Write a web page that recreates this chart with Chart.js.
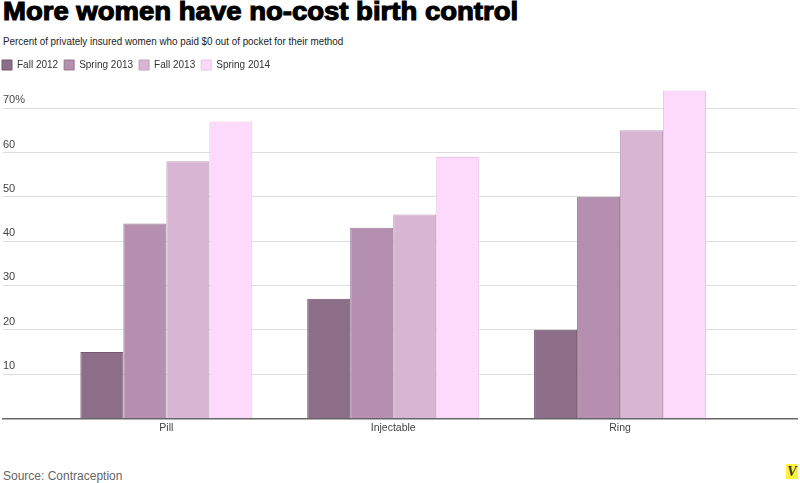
<!DOCTYPE html>
<html>
<head>
<meta charset="utf-8">
<script src="https://cdn.jsdelivr.net/npm/chart.js@4"></script>
<style>
  body { margin: 0; width: 800px; height: 483px; background: #fff; position: relative; overflow: hidden; }
  #title { position: absolute; left: 3px; top: -3px; font: bold 25px "Liberation Sans", Arial, sans-serif;
           color: #000; -webkit-text-stroke: 1.1px #000; transform-origin: left top; white-space: nowrap; }
  #sub, #source { position: absolute; left: 3px; white-space: nowrap; transform-origin: left top;
                  font-family: "Liberation Sans", Arial, sans-serif; }
  #sub { top: 35px; font-size: 11px; color: #222; }
  #source { top: 469px; font-size: 12px; color: #666; }
  #wrap { position: absolute; left: 0; top: 47px; width: 800px; height: 400px; }
  #logo { position: absolute; left: 786px; top: 464px; width: 12px; height: 15px; background: #fff23a;
          font: bold italic 14px "Liberation Serif", serif; color: #333; text-align: center; line-height: 15px; }
</style>
</head>
<body>
<div id="title">More women have no-cost birth control</div>
<div id="sub">Percent of privately insured women who paid $0 out of pocket for their method</div>
<div id="wrap"><canvas id="chart"></canvas></div>
<div id="source">Source: Contraception</div>
<div id="logo">V</div>
<script>
// ===============================
// Data
// ===============================
const categories = ["Pill", "Injectable", "Ring"];
const seriesNames = ["Fall 2012", "Spring 2013", "Fall 2013", "Spring 2014"];
const fall2012 = [15, 27, 20];
const spring2013 = [44, 43, 50];
const fall2013 = [58, 46, 65];
const spring2014 = [67, 59, 74];
const yTicks = [10, 20, 30, 40, 50, 60, 70];

const fills = ["#8d6e89", "#b48faf", "#d8b5d3", "#fdd9fb"];
const borders = ["#765672", "#9a7896", "#c29fbd", "#efc0e9"];

// squeeze the html texts to the widths seen in the reference
function fitWidth(id, width) {
    const el = document.getElementById(id);
    el.style.transform = "scaleX(" + (width / el.offsetWidth) + ")";
}
fitWidth("title", 515);
fitWidth("sub", 340);
fitWidth("source", 119);

const FONT = "'Liberation Sans', Arial, sans-serif";

function toPoints(values) {
    return values.map((v, i) => ({ x: i, y: v }));
}

const allSeries = [fall2012, spring2013, fall2013, spring2014];

// legend: a bit more room under it, and start it flush left
const legendSpacing = {
    id: 'legendSpacing',
    beforeInit(chart) {
        const fit = chart.legend.fit;
        chart.legend.fit = function () {
            fit.bind(chart.legend)();
            this.height += 6;
        };
    },
    afterLayout(chart) {
        chart.legend.left -= 7;
    }
};

const ctx = document.getElementById("chart").getContext("2d");

const chart = new Chart(ctx, {
    type: 'bar',
    data: {
        datasets: allSeries.map((s, i) => ({
            label: seriesNames[i],
            data: toPoints(s),
            backgroundColor: fills[i],
            borderColor: borders[i],
            borderWidth: 1,
            categoryPercentage: 0.758,
            barPercentage: 1.0
        }))
    },
    plugins: [legendSpacing],
    options: {
        responsive: true,
        maintainAspectRatio: false,
        animation: false,
        layout: { padding: { left: 3, right: 3, top: 7, bottom: 10 } },
        plugins: {
            legend: {
                position: 'top',
                align: 'start',
                labels: {
                    boxWidth: 10,
                    boxHeight: 10,
                    padding: 6,
                    color: '#333',
                    font: { family: FONT, size: 10 }
                }
            },
            tooltip: { enabled: false }
        },
        scales: {
            x: {
                type: 'linear',
                offset: false,
                min: -0.72,
                max: 2.78,
                grid: { display: false, drawTicks: false },
                border: { display: true, color: '#666', width: 1.5 },
                ticks: {
                    stepSize: 1,
                    includeBounds: false,
                    padding: 3,
                    color: '#444',
                    font: { family: FONT, size: 10.5 },
                    callback: (value) => Number.isInteger(value) ? (categories[value] || '') : ''
                }
            },
            y: {
                min: 0,
                max: 75,
                afterFit: (scale) => { scale.width = 0; },
                grid: { color: '#dddddd', drawTicks: false },
                border: { display: false },
                ticks: {
                    stepSize: 10,
                    includeBounds: false,
                    mirror: true,
                    padding: 0,
                    labelOffset: -8,
                    color: '#444',
                    font: { family: FONT, size: 11 },
                    callback: (value) => {
                        if (!yTicks.includes(value)) return '';
                        return value === 70 ? value + '%' : String(value);
                    }
                }
            }
        }
    }
});
</script>
</body>
</html>
